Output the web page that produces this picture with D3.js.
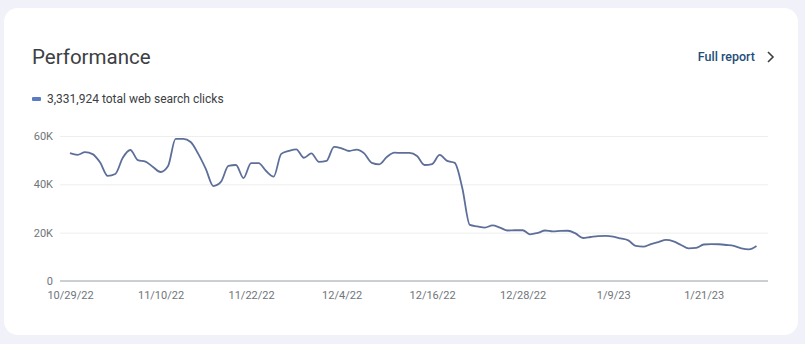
<!DOCTYPE html>
<html>
<head>
<meta charset="utf-8">
<script src="https://cdn.jsdelivr.net/npm/d3@7/dist/d3.min.js"></script>
<style>
  html, body { margin: 0; padding: 0; background: #f1f2f9; }
  svg { display: block; }
</style>
</head>
<body>
<svg id="chart" width="805" height="344"></svg>
<script>
const startDate = "2022-10-29";
const clicks = [
  52900, 52200, 53300, 52500, 49000, 43500, 44300, 51000, 54200, 50000,
  49400, 47200, 45100, 47600, 58800, 58800, 57500, 52600, 46400, 39300,
  41000, 47600, 48000, 42600, 48800, 48800, 45500, 43200, 52600, 53800,
  54500, 51000, 52800, 49300, 49700, 55500, 54900, 53800, 54400, 52800,
  48900, 48300, 51300, 53100, 53000, 53000, 51700, 48000, 48400, 52200,
  49700, 48900, 38500, 23200, 22600, 22100, 23000, 22100, 20900, 21000,
  21000, 19300, 19900, 20900, 20500, 20700, 20800, 19700, 17800, 18200,
  18600, 18700, 18400, 17600, 16800, 14500, 14200, 15300, 16100, 17000,
  16400, 14900, 13500, 13700, 15100, 15300, 15200, 14900, 14500, 13500,
  13100, 14500
];
const yTicks = [0, 20000, 40000, 60000];
const xTickLabels = ["10/29/22", "11/10/22", "11/22/22", "12/4/22", "12/16/22", "12/28/22", "1/9/23", "1/21/23"];
const titleText = "Performance";
const legendText = "3,331,924 total web search clicks";
const linkText = "Full report";

const parse = d3.timeParse("%Y-%m-%d");
const start = parse(startDate);
const data = clicks.map((v, i) => ({ date: d3.timeDay.offset(start, i), value: v }));
const tickParse = d3.timeParse("%m/%d/%y");
const xTickDates = xTickLabels.map(s => tickParse(s));

const svg = d3.select("#chart");
const font = "Roboto, 'Noto Sans', Arial, sans-serif";

// card
svg.append("rect").attr("x", 4).attr("y", 8).attr("width", 794).attr("height", 327)
  .attr("rx", 14).attr("fill", "#ffffff");

svg.append("text").attr("x", 32).attr("y", 64).text(titleText)
  .attr("font-family", font).attr("font-size", 20.5).attr("fill", "#3c4043");

svg.append("text").attr("x", 755).attr("y", 61).attr("text-anchor", "end").text(linkText)
  .attr("font-family", font).attr("font-size", 12.5).attr("font-weight", 500).attr("fill", "#1f4e79");
svg.append("path").attr("d", "M768,52 L773,57 L768,62").attr("fill", "none")
  .attr("stroke", "#3c4043").attr("stroke-width", 1.6);

svg.append("rect").attr("x", 32).attr("y", 97).attr("width", 9).attr("height", 4).attr("rx", 1)
  .attr("fill", "#5b7cc4");
svg.append("text").attr("x", 47).attr("y", 103).text(legendText)
  .attr("font-family", font).attr("font-size", 12).attr("fill", "#3c4043");

const x = d3.scaleTime().domain([start, d3.timeDay.offset(start, 91)]).range([70, 756.5]);
const y = d3.scaleLinear().domain([0, 60000]).range([281, 136]);

// gridlines
const grid = svg.append("g").attr("transform", "translate(60,0)")
  .call(d3.axisLeft(y).tickValues(yTicks.filter(d => d > 0)).tickSize(-708).tickFormat(""));
grid.select(".domain").remove();
grid.selectAll("line").attr("stroke", "#eeeeef");

// y labels
const yAxis = svg.append("g").attr("transform", "translate(56,0)")
  .call(d3.axisLeft(y).tickValues(yTicks).tickSize(0)
    .tickFormat(d => d === 0 ? "0" : d3.format("~s")(d).replace("k", "K")));
yAxis.select(".domain").remove();
yAxis.selectAll("text").attr("font-family", font).attr("font-size", 11).attr("fill", "#70757a").attr("dx", 0);

// x axis
const xAxis = svg.append("g").attr("transform", "translate(0,281)")
  .call(d3.axisBottom(x).tickValues(xTickDates).tickSize(0)
    .tickFormat((d, i) => xTickLabels[i]));
xAxis.select(".domain").remove();
xAxis.selectAll("text").attr("font-family", font).attr("font-size", 11).attr("fill", "#70757a").attr("dy", "1.35em");

svg.append("line").attr("x1", 60).attr("x2", 768).attr("y1", 281).attr("y2", 281)
  .attr("stroke", "#9aa0a6").attr("stroke-width", 1);

// line
const line = d3.line().x(d => x(d.date)).y(d => y(d.value)).curve(d3.curveMonotoneX);
svg.append("path").datum(data).attr("d", line).attr("fill", "none")
  .attr("stroke", "#5d6f99").attr("stroke-width", 1.8).attr("stroke-linejoin", "round");
</script>
</body>
</html>
